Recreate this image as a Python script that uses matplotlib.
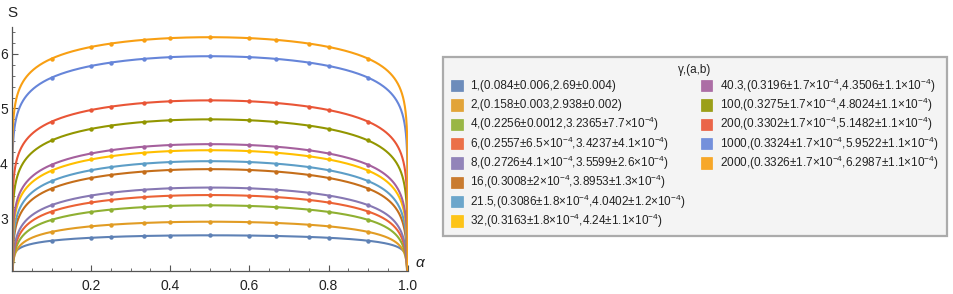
import numpy as np
import matplotlib
matplotlib.use("Agg")
import matplotlib.pyplot as plt
from matplotlib.patches import Rectangle
from matplotlib.ticker import MultipleLocator

plt.rcParams['font.family'] = ['Liberation Sans', 'DejaVu Sans']
plt.rcParams['mathtext.fontset'] = 'custom'
plt.rcParams['mathtext.rm'] = 'Liberation Sans'
plt.rcParams['mathtext.it'] = 'Liberation Sans:italic'

# fit parameters (S = a*ln(sin(pi*alpha)) + b)
gammas = ["1", "2", "4", "6", "8", "16", "21.5", "32", "40.3", "100", "200", "1000", "2000"]
a_fit = [0.084, 0.158, 0.2256, 0.2557, 0.2726, 0.3008, 0.3086, 0.3163, 0.3196, 0.3275, 0.3302, 0.3324, 0.3326]
b_fit = [2.69, 2.938, 3.2365, 3.4237, 3.5599, 3.8953, 4.0402, 4.24, 4.3506, 4.8024, 5.1482, 5.9522, 6.2987]

labels = [
    "1,(0.084±0.006,2.69±0.004)",
    "2,(0.158±0.003,2.938±0.002)",
    "4,(0.2256±0.0012,3.2365±7.7×10$^{-4}$)",
    "6,(0.2557±6.5×10$^{-4}$,3.4237±4.1×10$^{-4}$)",
    "8,(0.2726±4.1×10$^{-4}$,3.5599±2.6×10$^{-4}$)",
    "16,(0.3008±2×10$^{-4}$,3.8953±1.3×10$^{-4}$)",
    "21.5,(0.3086±1.8×10$^{-4}$,4.0402±1.2×10$^{-4}$)",
    "32,(0.3163±1.8×10$^{-4}$,4.24±1.1×10$^{-4}$)",
    "40.3,(0.3196±1.7×10$^{-4}$,4.3506±1.1×10$^{-4}$)",
    "100,(0.3275±1.7×10$^{-4}$,4.8024±1.1×10$^{-4}$)",
    "200,(0.3302±1.7×10$^{-4}$,5.1482±1.1×10$^{-4}$)",
    "1000,(0.3324±1.7×10$^{-4}$,5.9522±1.1×10$^{-4}$)",
    "2000,(0.3326±1.7×10$^{-4}$,6.2987±1.1×10$^{-4}$)",
]

# measured points
alpha_pts = [0.1, 0.2, 0.25, 1/3, 0.4, 0.5, 0.6, 2/3, 0.75, 0.8, 0.9]
s_pts = [
    [2.591, 2.645, 2.661, 2.678, 2.686, 2.690, 2.686, 2.678, 2.661, 2.645, 2.591],
    [2.752, 2.854, 2.883, 2.915, 2.930, 2.938, 2.930, 2.915, 2.883, 2.854, 2.752],
    [2.972, 3.117, 3.158, 3.204, 3.225, 3.237, 3.225, 3.204, 3.158, 3.117, 2.972],
    [3.123, 3.288, 3.335, 3.387, 3.411, 3.424, 3.411, 3.387, 3.335, 3.288, 3.123],
    [3.240, 3.415, 3.465, 3.521, 3.546, 3.560, 3.546, 3.521, 3.465, 3.415, 3.240],
    [3.542, 3.735, 3.791, 3.852, 3.880, 3.895, 3.880, 3.852, 3.791, 3.735, 3.542],
    [3.678, 3.876, 3.933, 3.996, 4.025, 4.040, 4.025, 3.996, 3.933, 3.876, 3.678],
    [3.869, 4.072, 4.130, 4.195, 4.224, 4.240, 4.224, 4.195, 4.130, 4.072, 3.869],
    [3.975, 4.181, 4.240, 4.305, 4.335, 4.351, 4.335, 4.305, 4.240, 4.181, 3.975],
    [4.418, 4.628, 4.689, 4.755, 4.786, 4.802, 4.786, 4.755, 4.689, 4.628, 4.418],
    [4.760, 4.973, 5.034, 5.101, 5.132, 5.148, 5.132, 5.101, 5.034, 4.973, 4.760],
    [5.562, 5.776, 5.837, 5.904, 5.936, 5.952, 5.936, 5.904, 5.837, 5.776, 5.562],
    [5.908, 6.122, 6.183, 6.251, 6.282, 6.299, 6.282, 6.251, 6.183, 6.122, 5.908],
]

colors = ["#5E81B5", "#E19C24", "#8FB032", "#EB6235", "#8778B3", "#C56E1A", "#5D9EC7",
          "#FFBF00", "#A5609D", "#929600", "#E95536", "#6685D9", "#F89F13"]

W, H = 954, 294
fig = plt.figure(figsize=(W / 100, H / 100), dpi=100)
ax = fig.add_axes([12 / W, (H - 271) / H, (407.7 - 12) / W, (271 - 26.7) / H])

alpha_fit = np.concatenate([np.geomspace(1e-7, 0.05, 300),
                            np.linspace(0.05, 0.95, 400),
                            1 - np.geomspace(0.05, 1e-7, 300)])

for a, b, pts, c in zip(a_fit, b_fit, s_pts, colors):
    ax.plot(alpha_fit, a * np.log(np.sin(np.pi * alpha_fit)) + b, color=c, lw=1.5,
            solid_capstyle='butt')
    ax.plot(alpha_pts, pts, 'o', color=c, ms=3.2, mec='none')

ax.set_xlim(0, 1)
ax.set_ylim(2.04, 6.49)
for side in ('top', 'right'):
    ax.spines[side].set_visible(False)
for side in ('left', 'bottom'):
    ax.spines[side].set_color('#555555')
    ax.spines[side].set_linewidth(0.9)

ax.set_xticks([0.2, 0.4, 0.6, 0.8, 1.0])
ax.set_xticklabels(["0.2", "0.4", "0.6", "0.8", "1.0"])
ax.xaxis.set_minor_locator(MultipleLocator(0.05))
ax.set_yticks([3, 4, 5, 6])
ax.yaxis.set_minor_locator(MultipleLocator(0.2))
ax.tick_params(which='both', direction='in', color='#555555', labelsize=10,
               labelcolor='#222222')
ax.tick_params(which='major', length=4.5, width=0.8)
ax.tick_params(which='minor', length=2.5, width=0.6)
ax.tick_params(axis='x', pad=6)
ax.tick_params(axis='y', pad=3)

fig.text(12 / W, 1 - 13 / H, "S", fontsize=11, ha='center', va='center', color='#222222')
fig.text(420 / W, 1 - 263 / H, "α", fontsize=11, style='italic', ha='center', va='center',
         color='#222222')

# legend box
lx0, lx1, ly0, ly1 = 442.7, 946.7, 56.7, 236.0
lax = fig.add_axes([lx0 / W, (H - ly1) / H, (lx1 - lx0) / W, (ly1 - ly0) / H])
lax.set_xlim(0, lx1 - lx0)
lax.set_ylim(ly1 - ly0, 0)
lax.axis('off')
lax.add_patch(Rectangle((0, 0), lx1 - lx0, ly1 - ly0, facecolor='#F4F4F4',
                        edgecolor='#ABABAB', lw=1.6, clip_on=False))
lax.text(252, 13.5, "γ,(a,b)", fontsize=8.5, ha='center', va='center', color='#222222')

for i, (lab, c) in enumerate(zip(labels, colors)):
    col = 0 if i < 8 else 1
    row = i if i < 8 else i - 8
    y = 29 + 19.3 * row
    sx = 8.6 if col == 0 else 258.3
    lax.add_patch(Rectangle((sx, y - 5.7), 11.4, 11.4, facecolor=c, edgecolor=c,
                            lw=0.5, alpha=0.9))
    lax.text(sx + 18.7, y, lab, fontsize=8.5, ha='left', va='center', color='#222222')

fig.savefig("out.png", dpi=100)
